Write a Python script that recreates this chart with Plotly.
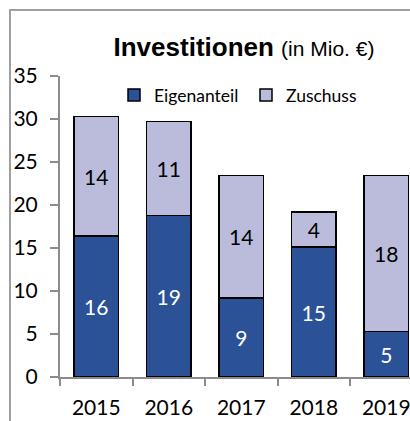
import plotly.graph_objects as go

years = ["2015", "2016", "2017", "2018", "2019"]
eigenanteil = [16.4, 18.8, 9.2, 15.1, 5.3]
zuschuss = [13.9, 10.9, 14.25, 4.1, 18.15]

W, H = 410, 421
L, R, T, B = 60, 0, 76, 44

fig = go.Figure()
fig.add_trace(go.Bar(
    x=years, y=eigenanteil, name="Eigenanteil",
    marker=dict(color="#2B5197", line=dict(color="#000000", width=1.5)),
    texttemplate="%{y:.0f}", textposition="inside", insidetextanchor="middle",
    textangle=0, constraintext="none",
    textfont=dict(family="Lato", size=21, color="white"),
))
fig.add_trace(go.Bar(
    x=years, y=zuschuss, name="Zuschuss",
    marker=dict(color="#BBBCDC", line=dict(color="#000000", width=1.5)),
    texttemplate="%{y:.0f}", textposition="inside", insidetextanchor="middle",
    textangle=0, constraintext="none",
    textfont=dict(family="Lato", size=21, color="black"),
))

pw = W - L - R
ph = H - T - B

fig.update_layout(
    width=W, height=H,
    margin=dict(l=L, r=R, t=T, b=B, pad=0),
    barmode="stack", bargap=0.38,
    plot_bgcolor="white", paper_bgcolor="white",
    title=dict(
        text="<b>Investitionen</b> <span style='font-size:21px'>(in Mio. €)</span>",
        font=dict(family="Liberation Sans", size=26, color="black"),
        x=244 / W, xref="container", xanchor="center",
        y=1 - 47 / H, yref="container", yanchor="middle",
    ),
    legend=dict(
        orientation="h", x=(114 - L) / pw, xanchor="left",
        y=(H - B - 95) / ph, yanchor="middle",
        font=dict(family="Lato", size=17.5, color="black"),
        entrywidth=87, bgcolor="rgba(0,0,0,0)", traceorder="normal",
    ),
    xaxis=dict(
        type="category", range=[-0.5, (W - L) / 72.5 - 0.5],
        tickson="boundaries", ticks="outside", ticklen=7, tickwidth=2,
        tickcolor="#8c8c8c", showline=True, linecolor="#8c8c8c", linewidth=2,
        showgrid=False, ticklabelstandoff=11,
        tickfont=dict(family="Lato", size=21, color="black"),
    ),
    yaxis=dict(
        range=[0, 35], dtick=5, ticks="outside", ticklen=8, tickwidth=2,
        tickcolor="#8c8c8c", showline=True, linecolor="#8c8c8c", linewidth=2,
        showgrid=False, zeroline=False, ticklabelstandoff=8,
        tickfont=dict(family="Lato", size=21, color="black"),
    ),
    showlegend=True,
)

# chart-area border (partially outside the visible window, as in the reference)
fig.add_shape(
    type="rect", xref="paper", yref="paper",
    x0=(10 - L) / pw, x1=(W + 20 - L) / pw,
    y0=(H - B - (H + 20)) / ph, y1=(H - B - 10) / ph,
    line=dict(color="#a0a0a0", width=2), fillcolor="rgba(0,0,0,0)", layer="below",
)

fig.write_html(
    "out.html",
    config={"displayModeBar": False},
    post_script="document.body.style.margin='0';document.body.style.overflow='hidden';",
)
